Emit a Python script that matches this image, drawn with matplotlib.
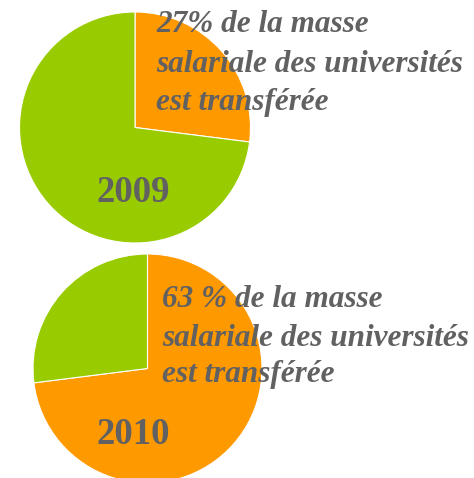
import matplotlib.pyplot as plt

# shares as drawn in the picture (percent)
years = ["2009", "2010"]
shares_2009 = [27, 73]   # orange (transferred), green
shares_2010 = [73, 27]   # orange, green
colors_2009 = ["#FF9900", "#99CC00"]
colors_2010 = ["#FF9900", "#99CC00"]
caption_2009 = ["27% de la masse", "salariale des universités", "est transférée"]
caption_2010 = ["63 % de la masse", "salariale des universités", "est transférée"]

W, H = 474, 478
fig = plt.figure(figsize=(W / 100, H / 100), dpi=100)
ax = fig.add_axes([0, 0, 1, 1])

grey = "#616161"
wp = dict(edgecolor="white", linewidth=0.8)

# top pie (2009)
ax.pie(shares_2009, colors=colors_2009, startangle=90, counterclock=False,
       center=(135, H - 127.5), radius=115.5, wedgeprops=wp, frame=True)
# bottom pie (2010)
ax.pie(shares_2010, colors=colors_2010, startangle=90, counterclock=False,
       center=(147.5, H - 368.5), radius=114.5, wedgeprops=wp, frame=True)
ax.set_xlim(0, W)
ax.set_ylim(0, H)
ax.set_aspect("equal")
ax.axis("off")

# captions, one line at a time (baselines in pixels from the top)
for line, yb in zip(caption_2009, [32, 72, 110]):
    ax.text(156, H - yb, line, fontsize=22.5, fontweight="bold",
            fontstyle="italic", family="Liberation Serif", color=grey,
            va="baseline", ha="left")
for line, yb in zip(caption_2010, [307, 346, 382]):
    ax.text(162, H - yb, line, fontsize=22.5, fontweight="bold",
            fontstyle="italic", family="Liberation Serif", color=grey,
            va="baseline", ha="left")

ax.text(97, H - 202, years[0], fontsize=26.5, fontweight="bold",
        family="Liberation Serif", color=grey, va="baseline", ha="left")
ax.text(97, H - 444, years[1], fontsize=26.5, fontweight="bold",
        family="Liberation Serif", color=grey, va="baseline", ha="left")

fig.savefig("out.png", dpi=100)
